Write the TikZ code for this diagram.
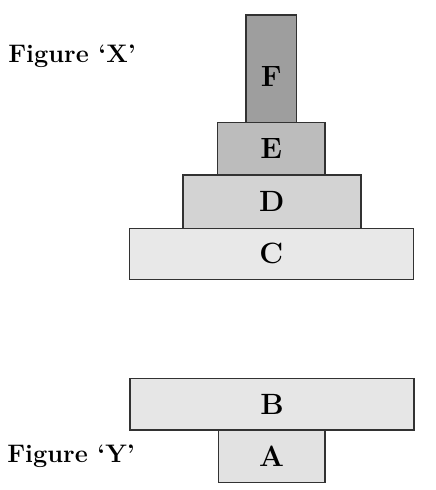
\documentclass[tikz,border=0pt]{standalone}
\usepackage{fontspec}
\begin{document}
\begin{tikzpicture}[x=0.75pt,y=-0.75pt,
  box/.style n args={2}{draw=edgecolor,line width=1.2pt,inner sep=0pt,
    minimum width=#1*0.75pt,minimum height=#2*0.75pt,
    font=\bfseries\fontsize{22}{26}\selectfont},
  caption/.style={anchor=base west,inner sep=0pt,
    font=\bfseries\fontsize{19}{23}\selectfont}]
\definecolor{edgecolor}{RGB}{50,50,50}
\definecolor{shadef}{RGB}{158,158,158}
\definecolor{shadee}{RGB}{188,188,188}
\definecolor{shaded}{RGB}{211,211,211}
\definecolor{shadec}{RGB}{232,232,232}
\definecolor{shadeb}{RGB}{230,230,230}
\definecolor{shadea}{RGB}{226,226,226}
\useasboundingbox (0,0) rectangle (436,490);
% figure X
\node [box={284}{51},fill=shadec] (c) at (271.3,253.8) {C};
\node [box={178}{53.3},fill=shaded] (d) at (271.7,201.7) {D};
\node [box={107.3}{52.3},fill=shadee] (e) at (271.3,148.8) {E};
\node [box={50.7}{107.7},fill=shadef] (f) at (271.3,68.8) {};
\node [inner sep=0pt,font=\bfseries\fontsize{22}{26}\selectfont] (flabel) at (271.3,77) {F};
\node [caption] (figx) at (8,62) {Figure `X'};
% figure Y
\node [box={284}{51.7},fill=shadeb] (b) at (272,404.2) {B};
\node [box={106.7}{52.3},fill=shadea] (a) at (271.7,456.2) {A};
\node [caption] (figy) at (7,462) {Figure `Y'};
\end{tikzpicture}
\end{document}
